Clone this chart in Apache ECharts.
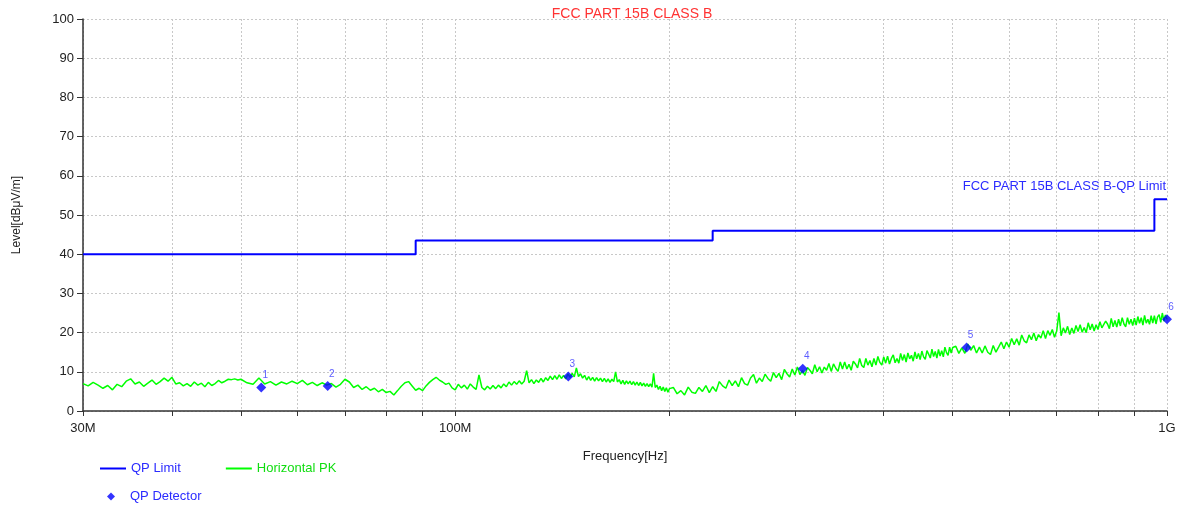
<!DOCTYPE html>
<html>
<head>
<meta charset="utf-8">
<style type="text/css">
html, body {margin: 0; padding: 0; background: #fff;}
#myChart {width: 1185px; height: 506px;}
</style>
<script src="https://cdn.jsdelivr.net/npm/echarts@6/dist/echarts.min.js"></script>
</head>
<body>
<div id="myChart"></div>
<script>
// frequency in MHz, level in dBuV/m
var pkFreq = [
    30,30.5,31,31.5,32,32.5,33,33.5,34,34.5,35,35.5,36,36.5,37,37.5,38,38.5,39,39.5,
    40,40.5,41,41.5,42,42.5,43,43.5,44,44.5,45,45.5,46,46.5,47,47.5,48,48.5,49,49.5,50,
    51,52,53,54,55,56,57,58,59,60,61,62,63,64,65,66,67,68,69,70,
    71,72,73,74,75,76,77,78,79,80,81,82,83,84,85,86,87,88,89,90,
    91,92,93,94,95,96,97,98,99,100,
    101,102,103,104,105,106,107,108,109,110,111,112,113,114,115,116,117,118,119,120,
    121,122,123,124,125,126,127,128,129,130,131,132,133,134,135,136,137,138,139,140,
    141,142,143,144,145,146,147,148,149,150,151,152,153,154,155,156,157,158,159,160,
    161,162,163,164,165,166,167,168,169,170,171,172,173,174,175,176,177,178,179,180,
    181,182,183,184,185,186,187,188,189,190,191,192,193,194,195,196,197,198,199,200,
    202.5,205,207.5,210,212.5,215,217.5,220,222.5,225,
    227.5,230,232.5,235,237.5,240,242.5,245,247.5,250,
    252.5,255,257.5,260,262.5,265,267.5,270,272.5,275,
    277.5,280,282.5,285,287.5,290,292.5,295,297.5,300,
    302.5,305,307.5,310,312.5,315,317.5,320,322.5,325,
    327.5,330,332.5,335,337.5,340,342.5,345,347.5,350,
    352.5,355,357.5,360,362.5,365,367.5,370,372.5,375,
    377.5,380,382.5,385,387.5,390,392.5,395,397.5,400,
    402.5,405,407.5,410,412.5,415,417.5,420,422.5,425,
    427.5,430,432.5,435,437.5,440,442.5,445,447.5,450,
    452.5,455,457.5,460,462.5,465,467.5,470,472.5,475,
    477.5,480,482.5,485,487.5,490,492.5,495,497.5,500,
    505,510,515,520,525,530,535,540,545,550,
    555,560,565,570,575,580,585,590,595,600,
    605,610,615,620,625,630,635,640,645,650,
    655,660,665,670,675,680,685,690,695,700,
    705,710,715,720,725,730,735,740,745,750,
    755,760,765,770,775,780,785,790,795,800,
    805,810,815,820,825,830,835,840,845,850,
    855,860,865,870,875,880,885,890,895,900,
    905,910,915,920,925,930,935,940,945,950,
    955,960,965,970,975,980,985,990,995,1000
];
var pkLevel = [
    7.0,6.4,7.3,6.6,5.8,6.5,5.4,6.8,6.2,7.6,8.2,6.9,7.4,6.3,7.1,7.9,6.8,7.5,8.4,7.6,
    8.6,6.9,7.2,6.4,7.0,6.3,7.4,6.6,7.1,6.2,7.3,6.5,7.0,7.8,7.2,7.6,8.1,8.0,8.2,7.9,8.1,
    7.2,6.8,8.4,6.9,7.5,6.6,7.4,6.9,7.6,7.0,7.8,6.7,7.3,6.5,7.2,6.6,7.0,6.1,6.8,8.1,
    7.4,6.0,6.6,5.5,6.2,5.3,5.8,4.9,5.5,4.7,5.0,4.1,5.2,6.3,7.2,7.5,6.4,5.3,5.8,5.2,
    6.4,7.3,8.0,8.6,7.9,7.4,6.8,7.1,5.9,5.4,
    6.8,5.9,6.6,5.6,6.9,6.1,5.5,9.2,6.0,5.4,6.3,5.6,6.5,5.7,6.6,5.9,6.9,6.2,7.4,6.6,
    7.5,6.8,7.7,6.9,7.6,10.3,7.2,8.0,7.0,7.9,7.3,8.3,7.4,8.5,7.8,8.9,8.0,9.0,8.1,9.2,
    8.3,9.1,8.2,9.4,8.6,9.6,8.7,11.0,8.8,9.5,8.4,9.1,7.9,8.8,7.8,8.6,7.6,8.5,7.7,8.4,
    7.5,8.3,7.4,8.2,7.3,8.1,7.5,10.0,7.4,8.0,6.9,7.8,6.8,7.7,6.9,7.6,6.7,7.5,6.6,7.4,
    6.5,7.3,6.4,7.1,6.3,7.0,6.2,6.9,6.1,9.6,6.0,6.6,5.5,6.3,5.2,6.1,5.0,5.9,4.8,5.7,
    6.0,4.4,5.2,4.1,6.1,4.8,4.5,6.0,5.0,6.5,
    4.7,6.2,5.0,7.5,6.4,5.8,7.9,6.5,7.7,6.2,
    8.5,7.0,6.6,8.4,9.3,7.1,8.4,7.5,9.4,8.3,
    7.6,9.8,8.5,9.6,8.0,10.6,9.5,8.7,10.7,9.2,
    11.2,9.3,10.3,9.1,11.1,10.4,9.5,11.8,10.0,11.3,
    9.7,11.2,10.4,12.1,10.1,12.0,10.9,10.1,12.5,10.7,
    12.5,10.7,11.9,10.4,12.7,12.0,11.0,13.4,11.6,11.1,
    13.4,11.7,12.9,11.3,13.4,11.7,13.9,12.4,11.7,13.8,
    12.2,14.0,12.0,13.4,14.3,12.3,13.4,12.2,14.7,12.9,
    14.4,12.5,14.8,13.3,14.2,12.7,15.1,13.3,14.7,13.1,
    15.3,13.8,13.2,15.4,14.5,13.5,15.8,13.9,15.2,13.5,
    15.7,14.0,15.4,13.8,16.3,14.9,14.2,16.3,14.8,16.2,
    16.5,14.7,16.1,14.7,17.1,15.5,16.7,14.8,16.3,14.8,
    16.6,15.0,14.4,16.7,15.0,16.3,17.6,15.9,17.6,16.3,
    18.5,16.9,18.4,16.8,19.4,17.9,17.4,19.4,18.2,19.9,
    17.9,19.5,18.6,20.5,18.5,20.5,19.3,20.8,18.8,20.4,
    25.1,19.2,21.2,19.9,21.6,19.5,21.2,19.8,21.8,20.3,
    22.0,20.1,21.3,20.0,22.5,20.7,22.2,20.4,22.0,20.8,
    22.8,21.2,20.8,22.9,22.2,21.0,23.6,21.5,23.1,21.4,
    23.4,21.7,23.8,22.2,21.5,23.8,22.1,23.4,21.8,23.7,
    21.9,24.1,22.4,23.8,21.9,24.4,22.4,23.4,22.1,24.3,
    22.4,24.3,22.2,24.0,24.6,22.6,25.0,22.9,24.5,23.4
];

var limitFreq = [30, 88, 88, 230, 230, 960, 960, 1000];
var limitLevel = [40, 40, 43.5, 43.5, 46, 46, 54, 54];

var qpFreq = [53.4, 66.2, 144.2, 307.8, 522.9, 1000];
var qpLevel = [6.0, 6.4, 8.8, 10.8, 16.2, 23.4];
var qpNames = ['1', '2', '3', '4', '5', '6'];

var xTicks = [30, 40, 50, 60, 70, 80, 90, 100, 200, 300, 400, 500, 600, 700, 800, 900, 1000];
var xLabels = [30, 100, 1000];

var fontName = 'Liberation Sans, Arial, sans-serif';

function pairs(xs, ys){
    var out = [];
    for (var i = 0; i < xs.length; i++) {
        out.push([xs[i], ys[i]]);
    }
    return out;
}

var qpData = [];
for (var i = 0; i < qpFreq.length; i++) {
    qpData.push({name: qpNames[i], value: [qpFreq[i], qpLevel[i]]});
}

var myChart = echarts.init(document.getElementById('myChart'), null, {renderer: 'canvas'});
var options = {
    animation: false,
    textStyle: {fontFamily: fontName},
    title: {
        text: 'FCC PART 15B CLASS B',
        left: 627,
        textAlign: 'center',
        top: 2,
        textStyle: {color: '#ff3333', fontSize: 14, fontWeight: 'normal', fontFamily: fontName}
    },
    grid: {left: 83, right: 18, top: 19, bottom: 95, containLabel: false},
    legend: [{
        left: 95,
        top: 457,
        icon: 'rect',
        itemWidth: 26,
        itemHeight: 2,
        itemGap: 45,
        textStyle: {fontSize: 13, fontFamily: fontName},
        data: [
            {name: 'QP Limit', textStyle: {color: '#2b2bff'}},
            {name: 'Horizontal PK', textStyle: {color: '#11dd11'}}
        ]
    }, {
        left: 102,
        top: 485,
        icon: 'diamond',
        itemWidth: 8,
        itemHeight: 8,
        textStyle: {fontSize: 13, fontFamily: fontName, color: '#2b2bff', padding: [0, 0, 0, 10]},
        data: ['QP Detector']
    }],
    xAxis: {
        type: 'log',
        logBase: 10,
        min: 30,
        max: 1000,
        name: 'Frequency[Hz]',
        nameLocation: 'middle',
        nameGap: 39,
        nameTextStyle: {color: '#222', fontSize: 13},
        axisLine: {show: true, lineStyle: {color: '#333', width: 1.5}},
        axisTick: {show: true, length: 5, customValues: xTicks, lineStyle: {color: '#333'}},
        axisLabel: {
            customValues: xLabels,
            color: '#222',
            fontSize: 13,
            margin: 11,
            formatter: function(v){ return v >= 1000 ? (v / 1000) + 'G' : v + 'M'; }
        },
        splitLine: {show: true, lineStyle: {color: '#c8c8c8', type: [2, 2]}},
        minorTick: {show: false},
        minorSplitLine: {show: false}
    },
    yAxis: {
        type: 'value',
        min: 0,
        max: 100,
        interval: 10,
        name: 'Level[dBμV/m]',
        nameLocation: 'middle',
        nameGap: 60,
        nameTextStyle: {color: '#222', fontSize: 12},
        axisLine: {show: true, lineStyle: {color: '#333', width: 1.5}},
        axisTick: {show: true, length: 6, lineStyle: {color: '#333'}},
        axisLabel: {color: '#222', fontSize: 13, margin: 9},
        splitLine: {show: true, lineStyle: {color: '#c8c8c8', type: [2, 2]}}
    },
    graphic: [{
        type: 'text',
        right: 19,
        top: 180,
        style: {text: 'FCC PART 15B CLASS B-QP Limit', fill: '#2b2bff', font: '13px ' + fontName}
    }],
    series: [{
        name: 'QP Limit',
        type: 'line',
        data: pairs(limitFreq, limitLevel),
        showSymbol: false,
        symbol: 'none',
        color: '#0000ff',
        lineStyle: {color: '#0000ff', width: 2},
        z: 3
    }, {
        name: 'Horizontal PK',
        type: 'line',
        data: pairs(pkFreq, pkLevel),
        showSymbol: false,
        symbol: 'none',
        color: '#00ff00',
        lineStyle: {color: '#00ff00', width: 1.5},
        z: 2
    }, {
        name: 'QP Detector',
        type: 'scatter',
        data: qpData,
        symbol: 'diamond',
        symbolSize: 10,
        color: '#0000ff',
        itemStyle: {color: '#0000ff'},
        label: {
            show: true,
            position: 'top',
            offset: [4, 3],
            formatter: '{b}',
            color: '#3333ff',
            fontSize: 10
        },
        z: 4
    }]
};
myChart.setOption(options);
</script>
</body>
</html>
